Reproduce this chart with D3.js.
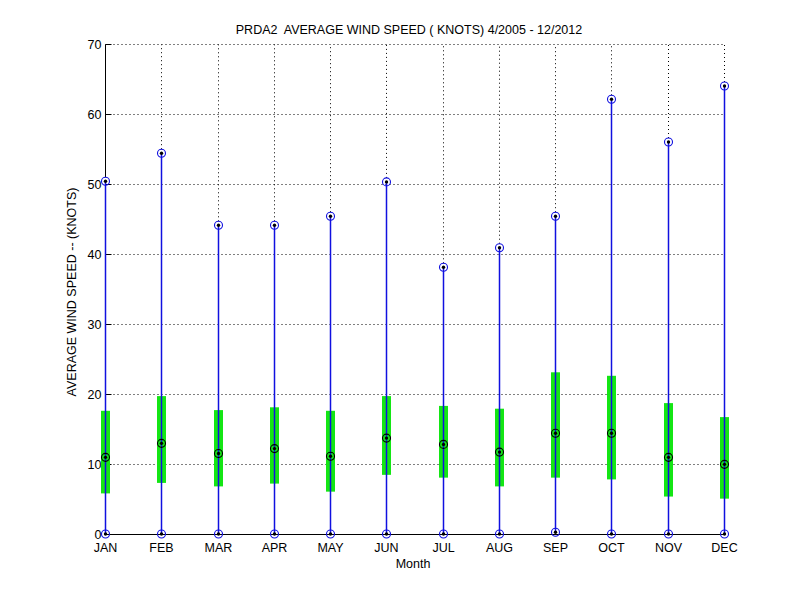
<!DOCTYPE html>
<html>
<head>
<meta charset="utf-8">
<script src="https://cdn.jsdelivr.net/npm/d3@7"></script>
<style>
    body { margin: 0; background: #fff; }
    svg { display: block; font-family: "Liberation Sans", Arial, sans-serif; }
    .grid line { stroke: #000; stroke-width: 1; stroke-dasharray: 1,3; }
    .tick-label { font-size: 12.5px; fill: #000; }
</style>
</head>
<body>
<svg id="canvas" width="800" height="600"></svg>
<script>
const months = ["JAN", "FEB", "MAR", "APR", "MAY", "JUN", "JUL", "AUG", "SEP", "OCT", "NOV", "DEC"];
const minSpeed = [0, 0, 0, 0, 0, 0, 0, 0, 0.25, 0, 0, 0];
const q1Speed = [5.8, 7.3, 6.8, 7.2, 6.05, 8.45, 8.05, 6.8, 8.05, 7.8, 5.35, 5.05];
const medianSpeed = [10.95, 12.95, 11.5, 12.2, 11.1, 13.7, 12.8, 11.7, 14.4, 14.4, 10.95, 9.95];
const q3Speed = [17.6, 19.7, 17.7, 18.1, 17.6, 19.7, 18.3, 17.9, 23.1, 22.6, 18.7, 16.7];
const maxSpeed = [50.4, 54.4, 44.1, 44.1, 45.4, 50.3, 38.1, 40.9, 45.4, 62.1, 56.0, 64.0];
const yTicks = [0, 10, 20, 30, 40, 50, 60, 70];

document.addEventListener("DOMContentLoaded", function() {

    const rows = months.map((m, i) => ({
        month: m,
        min: minSpeed[i],
        q1: q1Speed[i],
        median: medianSpeed[i],
        q3: q3Speed[i],
        max: maxSpeed[i]
    }));

    const margin = { left: 105, right: 76, top: 44, bottom: 66 };
    const width = 800, height = 600;

    const xScale = d3.scalePoint()
        .domain(months)
        .range([margin.left, width - margin.right]);

    const yScale = d3.scaleLinear()
        .domain([0, 70])
        .range([height - margin.bottom, margin.top]);

    // snap to pixel centres so 1px lines stay sharp
    const x = m => Math.round(xScale(m)) + 0.5;
    const y = v => Math.round(yScale(v)) + 0.5;
    const yRaw = v => yScale(v);

    const svg = d3.select("#canvas");

    // Grid (vertical lines only above the whiskers)
    const grid = svg.append("g").attr("class", "grid");

    grid.selectAll("line.h")
        .data(yTicks.filter(t => t > 0))
        .enter()
        .append("line")
        .attr("class", "h")
        .attr("x1", x("JAN"))
        .attr("x2", x("DEC"))
        .attr("y1", d => y(d))
        .attr("y2", d => y(d));

    grid.selectAll("line.v")
        .data(rows.slice(1))
        .enter()
        .append("line")
        .attr("class", "v")
        .attr("x1", d => x(d.month))
        .attr("x2", d => x(d.month))
        .attr("y1", d => yRaw(d.max) - 4)
        .attr("y2", y(70));

    // Axes
    svg.append("line")
        .attr("x1", x("JAN")).attr("x2", x("JAN"))
        .attr("y1", yRaw(rows[0].max) - 4).attr("y2", y(70))
        .attr("stroke", "#000");

    svg.append("line")
        .attr("x1", x("JAN")).attr("x2", x("DEC"))
        .attr("y1", y(0)).attr("y2", y(0))
        .attr("stroke", "#000");

    svg.selectAll("line.ytick")
        .data(yTicks)
        .enter()
        .append("line")
        .attr("class", "ytick")
        .attr("x1", x("JAN")).attr("x2", x("JAN") + 6)
        .attr("y1", d => y(d)).attr("y2", d => y(d))
        .attr("stroke", "#000");

    svg.selectAll("text.ylab")
        .data(yTicks)
        .enter()
        .append("text")
        .attr("class", "tick-label ylab")
        .attr("x", x("JAN") - 4)
        .attr("y", d => y(d) + 4.5)
        .attr("text-anchor", "end")
        .text(d => d);

    svg.selectAll("text.xlab")
        .data(months)
        .enter()
        .append("text")
        .attr("class", "tick-label xlab")
        .attr("x", d => x(d))
        .attr("y", y(0) + 17)
        .attr("text-anchor", "middle")
        .text(d => d);

    // Boxes
    svg.selectAll("rect.box")
        .data(rows)
        .enter()
        .append("rect")
        .attr("class", "box")
        .attr("x", d => x(d.month) - 4.5)
        .attr("width", 9)
        .attr("y", d => yRaw(d.q3))
        .attr("height", d => yRaw(d.q1) - yRaw(d.q3))
        .attr("fill", "#14e614");

    // Whiskers
    svg.selectAll("line.whisker")
        .data(rows)
        .enter()
        .append("line")
        .attr("class", "whisker")
        .attr("x1", d => x(d.month)).attr("x2", d => x(d.month))
        .attr("y1", d => yRaw(d.min)).attr("y2", d => yRaw(d.max))
        .attr("stroke", "#1010e0")
        .attr("stroke-width", 1.5);

    // Markers
    const markers = [];
    rows.forEach(d => {
        markers.push({ month: d.month, v: d.min, ring: "#1010e0" });
        markers.push({ month: d.month, v: d.max, ring: "#1010e0" });
        markers.push({ month: d.month, v: d.median, ring: "#000" });
    });

    const mk = svg.selectAll("g.marker")
        .data(markers)
        .enter()
        .append("g")
        .attr("class", "marker")
        .attr("transform", d => `translate(${x(d.month)},${yRaw(d.v)})`);

    mk.append("circle")
        .attr("r", 4)
        .attr("fill", "none")
        .attr("stroke", d => d.ring)
        .attr("stroke-width", 1.1);

    mk.append("circle")
        .attr("r", 1.7)
        .attr("fill", "#000");

    // Titles
    svg.append("text")
        .attr("x", 409)
        .attr("y", 34)
        .attr("text-anchor", "middle")
        .style("font-size", "12.5px")
        .style("white-space", "pre")
        .text("PRDA2  AVERAGE WIND SPEED ( KNOTS) 4/2005 - 12/2012");

    svg.append("text")
        .attr("x", 413)
        .attr("y", 568)
        .attr("text-anchor", "middle")
        .style("font-size", "12.5px")
        .text("Month");

    svg.append("text")
        .attr("transform", "translate(76,292) rotate(-90)")
        .attr("text-anchor", "middle")
        .style("font-size", "12.5px")
        .text("AVERAGE WIND SPEED -- (KNOTS)");
});
</script>
</body>
</html>
